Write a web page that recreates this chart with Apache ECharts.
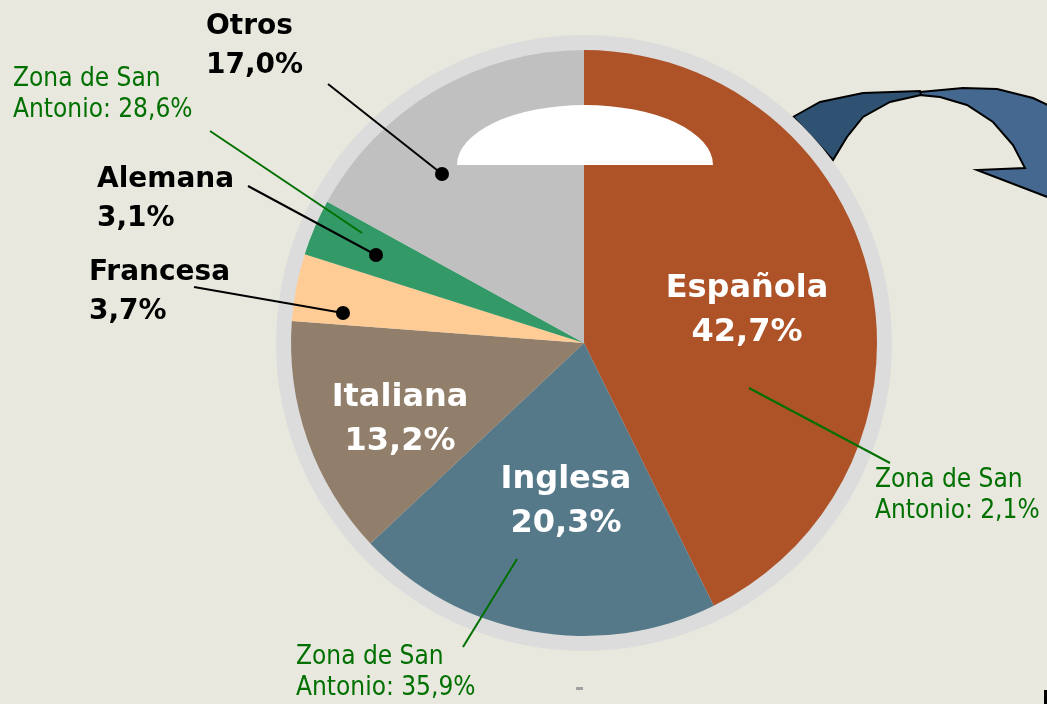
<!DOCTYPE html>
<html>
<head>
<meta charset="utf-8">
<script src="https://cdn.jsdelivr.net/npm/echarts@6/dist/echarts.min.js"></script>
<style>
  html, body { margin: 0; padding: 0; background: #e8e8de; }
  #main { width: 1047px; height: 704px; }
</style>
</head>
<body>
<div id="main"></div>
<script>
// nacionalidad de los turistas
var categories = ['Española', 'Inglesa', 'Italiana', 'Francesa', 'Alemana', 'Otros'];
var shares = [42.7, 20.3, 13.2, 3.7, 3.1, 17.0];
// Zona de San Antonio (solo algunas)
var zonaSanAntonio = [2.1, 35.9, null, null, 28.6, null];

var colors = ['#ae5227', '#56798a', '#927f6b', '#ffcc96', '#339966', '#c0c0c0'];

function pct(v) {
  return v.toFixed(1).replace('.', ',') + '%';
}

// sitio de las etiquetas
var namePos = {
  0: { x: 747, y: 311, align: 'center' },
  1: { x: 566, y: 502, align: 'center' },
  2: { x: 400, y: 420, align: 'center' },
  3: { x: 89, y: 292, align: 'left', line: [[194, 287], [343, 313]] },
  4: { x: 97, y: 199, align: 'left', line: [[248, 186], [376, 255]] },
  5: { x: 206, y: 46, align: 'left', line: [[328, 84], [442, 174]] }
};
var zonaPos = {
  0: { x: 875, y: 496, line: [[890, 463], [749, 388]] },
  1: { x: 296, y: 673, line: [[463, 647], [517, 559]] },
  4: { x: 13, y: 95, line: [[210, 131], [362, 233]] }
};

function threePts(l) {
  var m = [(l[0][0] + l[1][0]) / 2, (l[0][1] + l[1][1]) / 2];
  return [l[0], m, l[1]];
}

var bold = 'DejaVu Sans';
var thin = "'DejaVu Sans Condensed', 'Noto Sans', sans-serif";
var inside = function (i) { return !namePos[i].line; };

var mainData = categories.map(function (c, i) {
  return {
    name: c, value: shares[i], itemStyle: { color: colors[i] },
    label: { show: inside(i) }
  };
});

var outData = categories.map(function (c, i) {
  return {
    name: c, value: shares[i],
    label: { show: !inside(i) },
    labelLine: { show: !inside(i) }
  };
});

var zonaData = categories.map(function (c, i) {
  return {
    name: c, value: shares[i],
    label: { show: zonaSanAntonio[i] != null },
    labelLine: { show: zonaSanAntonio[i] != null }
  };
});

var graphics = [];
// flecha azul
graphics.push({
  type: 'polygon', z: 1,
  shape: { points: [[920, 92], [963, 88], [997, 89], [1033, 98], [1050, 106], [1050, 198], [977, 170], [1025, 168], [1013, 145], [993, 122], [967, 105], [940, 97], [920, 95]] },
  style: { fill: '#44688f', stroke: '#000', lineWidth: 2 }
});
graphics.push({
  type: 'polygon', z: 1,
  shape: { points: [[793, 117], [820, 102], [863, 93], [920, 91], [921, 95], [890, 102], [863, 117], [847, 137], [833, 160]] },
  style: { fill: '#2f5272', stroke: '#000', lineWidth: 2 }
});
// brillo blanco
graphics.push({
  type: 'sector', z: 100, x: 585, y: 165, scaleY: 60 / 128,
  shape: { cx: 0, cy: 0, r: 128, startAngle: Math.PI, endAngle: Math.PI * 2 },
  style: { fill: '#fff' }
});
// puntos negros
[3, 4, 5].forEach(function (i) {
  var p = namePos[i].line[1];
  graphics.push({ type: 'circle', z: 100, shape: { cx: p[0], cy: p[1], r: 7 }, style: { fill: '#000' } });
});
graphics.push({ type: 'rect', z: 100, shape: { x: 576, y: 687, width: 7, height: 3 }, style: { fill: '#a0a0a0' } });
graphics.push({ type: 'rect', z: 100, shape: { x: 1044, y: 690, width: 3, height: 14 }, style: { fill: '#000' } });

function overlay(z, data, label, lineColor, pos) {
  return {
    type: 'pie', silent: true, z: z,
    center: [584, 343], radius: 293,
    startAngle: 90, clockwise: true,
    avoidLabelOverlap: false,
    emphasis: { disabled: true },
    itemStyle: { color: 'rgba(0,0,0,0)', borderWidth: 0 },
    label: label,
    labelLine: { lineStyle: { color: lineColor, width: 2 } },
    labelLayout: function (p) {
      var L = pos[p.dataIndex];
      if (!L || !L.line) return {};
      return { x: L.x, y: L.y, align: 'left', verticalAlign: 'middle', labelLinePoints: threePts(L.line) };
    },
    data: data
  };
}

var myChart = echarts.init(document.getElementById('main'));
var option = {
  backgroundColor: '#e8e8de',
  animation: false,
  graphic: graphics,
  series: [
    {
      type: 'pie', silent: true, z: 1,
      center: [584, 343], radius: 308,
      label: { show: false }, labelLine: { show: false },
      emphasis: { disabled: true },
      data: [{ value: 1, itemStyle: { color: '#dcdcdc' } }]
    },
    {
      type: 'pie', silent: true, z: 2,
      center: [584, 343], radius: 293,
      startAngle: 90, clockwise: true,
      avoidLabelOverlap: false,
      emphasis: { disabled: true },
      itemStyle: { borderWidth: 0 },
      label: {
        position: 'inside', color: '#fff', fontSize: 32, lineHeight: 44,
        fontFamily: bold, fontWeight: 'bold',
        formatter: function (p) { return p.name + '\n' + pct(p.value); }
      },
      labelLine: { show: false },
      labelLayout: function (p) {
        var L = namePos[p.dataIndex];
        if (!L || L.line) return {};
        return { x: L.x, y: L.y, align: L.align, verticalAlign: 'middle' };
      },
      data: mainData
    },
    overlay(3, outData, {
      position: 'outside', color: '#000', fontSize: 28, lineHeight: 39,
      fontFamily: bold, fontWeight: 'bold',
      formatter: function (p) { return p.name + '\n' + pct(p.value); }
    }, '#000', namePos),
    overlay(4, zonaData, {
      position: 'outside', color: '#007000', fontFamily: thin,
      fontSize: 26, lineHeight: 31,
      formatter: function (p) {
        var z = zonaSanAntonio[p.dataIndex];
        return z == null ? '' : 'Zona de San\nAntonio: ' + pct(z);
      }
    }, '#007000', zonaPos)
  ]
};
myChart.setOption(option);
</script>
</body>
</html>
